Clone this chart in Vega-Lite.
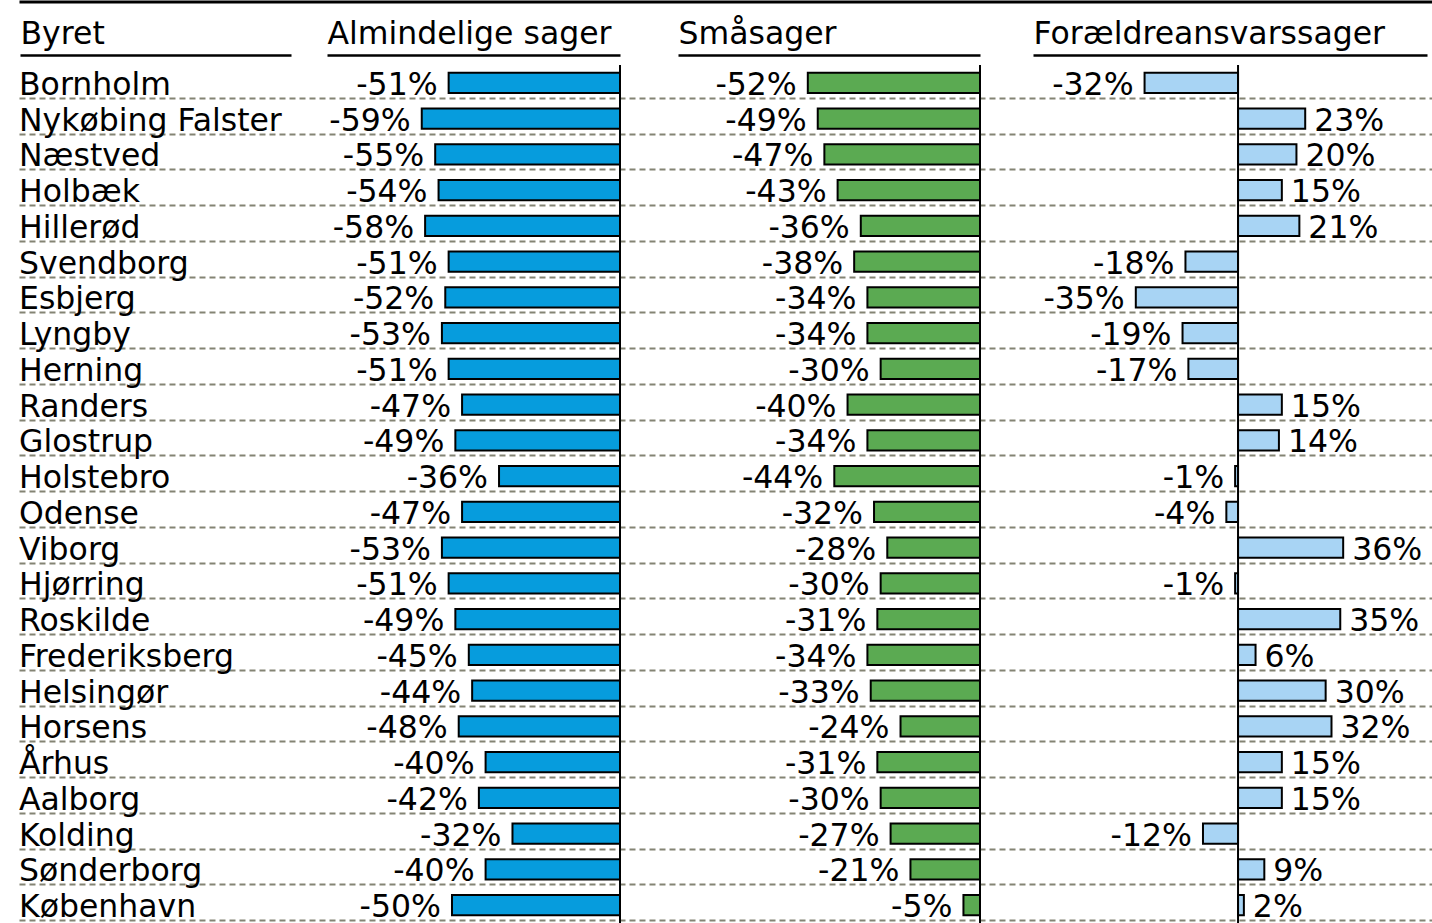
{
"$schema": "https://vega.github.io/schema/vega-lite/v6.json",
"width": 1412, "height": 858,
"padding": {"left": 20, "top": 65, "right": 0, "bottom": 0},
"autosize": {"type": "none"},
"config": {
  "view": {"stroke": null},
  "locale": {"number": {"decimal": ".", "thousands": ",", "grouping": [3], "currency": ["", ""], "minus": "-"}},
  "axis": {"titleFont": "DejaVu Sans", "titleFontSize": 31.5, "titleFontWeight": "normal", "titleColor": "#000"},
  "text": {"font": "DejaVu Sans", "fontSize": 31.5, "color": "#000"}
},
"data": {"values": [
{"city":"Bornholm","type":"A","v":-0.51},{"city":"Bornholm","type":"S","v":-0.52},{"city":"Bornholm","type":"F","v":-0.32},
{"city":"Nykøbing Falster","type":"A","v":-0.59},{"city":"Nykøbing Falster","type":"S","v":-0.49},{"city":"Nykøbing Falster","type":"F","v":0.23},
{"city":"Næstved","type":"A","v":-0.55},{"city":"Næstved","type":"S","v":-0.47},{"city":"Næstved","type":"F","v":0.20},
{"city":"Holbæk","type":"A","v":-0.54},{"city":"Holbæk","type":"S","v":-0.43},{"city":"Holbæk","type":"F","v":0.15},
{"city":"Hillerød","type":"A","v":-0.58},{"city":"Hillerød","type":"S","v":-0.36},{"city":"Hillerød","type":"F","v":0.21},
{"city":"Svendborg","type":"A","v":-0.51},{"city":"Svendborg","type":"S","v":-0.38},{"city":"Svendborg","type":"F","v":-0.18},
{"city":"Esbjerg","type":"A","v":-0.52},{"city":"Esbjerg","type":"S","v":-0.34},{"city":"Esbjerg","type":"F","v":-0.35},
{"city":"Lyngby","type":"A","v":-0.53},{"city":"Lyngby","type":"S","v":-0.34},{"city":"Lyngby","type":"F","v":-0.19},
{"city":"Herning","type":"A","v":-0.51},{"city":"Herning","type":"S","v":-0.30},{"city":"Herning","type":"F","v":-0.17},
{"city":"Randers","type":"A","v":-0.47},{"city":"Randers","type":"S","v":-0.40},{"city":"Randers","type":"F","v":0.15},
{"city":"Glostrup","type":"A","v":-0.49},{"city":"Glostrup","type":"S","v":-0.34},{"city":"Glostrup","type":"F","v":0.14},
{"city":"Holstebro","type":"A","v":-0.36},{"city":"Holstebro","type":"S","v":-0.44},{"city":"Holstebro","type":"F","v":-0.01},
{"city":"Odense","type":"A","v":-0.47},{"city":"Odense","type":"S","v":-0.32},{"city":"Odense","type":"F","v":-0.04},
{"city":"Viborg","type":"A","v":-0.53},{"city":"Viborg","type":"S","v":-0.28},{"city":"Viborg","type":"F","v":0.36},
{"city":"Hjørring","type":"A","v":-0.51},{"city":"Hjørring","type":"S","v":-0.30},{"city":"Hjørring","type":"F","v":-0.01},
{"city":"Roskilde","type":"A","v":-0.49},{"city":"Roskilde","type":"S","v":-0.31},{"city":"Roskilde","type":"F","v":0.35},
{"city":"Frederiksberg","type":"A","v":-0.45},{"city":"Frederiksberg","type":"S","v":-0.34},{"city":"Frederiksberg","type":"F","v":0.06},
{"city":"Helsingør","type":"A","v":-0.44},{"city":"Helsingør","type":"S","v":-0.33},{"city":"Helsingør","type":"F","v":0.30},
{"city":"Horsens","type":"A","v":-0.48},{"city":"Horsens","type":"S","v":-0.24},{"city":"Horsens","type":"F","v":0.32},
{"city":"Århus","type":"A","v":-0.40},{"city":"Århus","type":"S","v":-0.31},{"city":"Århus","type":"F","v":0.15},
{"city":"Aalborg","type":"A","v":-0.42},{"city":"Aalborg","type":"S","v":-0.30},{"city":"Aalborg","type":"F","v":0.15},
{"city":"Kolding","type":"A","v":-0.32},{"city":"Kolding","type":"S","v":-0.27},{"city":"Kolding","type":"F","v":-0.12},
{"city":"Sønderborg","type":"A","v":-0.40},{"city":"Sønderborg","type":"S","v":-0.21},{"city":"Sønderborg","type":"F","v":0.09},
{"city":"København","type":"A","v":-0.50},{"city":"København","type":"S","v":-0.05},{"city":"København","type":"F","v":0.02}
]},
"resolve": {"scale": {"x": "independent"}, "axis": {"x": "independent"}},
"layer": [
  {
    "transform": [{"filter": "datum.type === 'A'"}],
    "mark": {"type": "tick", "opacity": 0},
    "encoding": {
      "x": {"datum": 0, "type": "quantitative", "scale": {"domain": [0, 1], "range": [-1, 1412], "nice": false},
        "axis": {"orient": "top", "offset": 63.5, "labels": false, "ticks": false, "grid": false, "domain": true, "domainColor": "#000", "domainWidth": 3, "title": null}},
      "y": {"field": "city", "type": "nominal", "sort": null, "scale": {"type": "band", "paddingInner": 0, "paddingOuter": 0},
        "axis": {"grid": true, "gridDash": [6, 4], "gridColor": "#848474", "gridWidth": 2, "labels": false, "ticks": false, "domain": false, "title": null, "bandPosition": 0.935}}
    }
  },
  {
    "transform": [{"filter": "datum.type === 'A'"}],
    "mark": {"type": "text", "align": "left", "baseline": "alphabetic", "dx": -1, "dy": 12},
    "encoding": {
      "x": {"datum": 0, "type": "quantitative", "scale": {"domain": [0, 1], "range": [0, 271], "nice": false},
        "axis": {"orient": "top", "offset": 10, "labels": false, "ticks": false, "grid": false, "domain": true, "domainColor": "#000", "domainWidth": 2.5, "title": "Byret", "titleAnchor": "start", "titleAlign": "left", "titleBaseline": "alphabetic", "titleY": -12}},
      "y": {"field": "city", "type": "nominal", "sort": null, "scale": {"type": "band", "paddingInner": 0, "paddingOuter": 0},
        "axis": {"grid": true, "gridDash": [6, 4], "gridColor": "#848474", "gridWidth": 2, "labels": false, "ticks": false, "domain": false, "title": null, "bandPosition": 0.935}},
      "text": {"field": "city", "type": "nominal"}
    }
  },
  {
    "layer": [
      {
        "transform": [{"filter": "datum.type === 'A'"}],
        "mark": {"type": "bar", "height": {"band": 0.56}, "fill": "#069CDD", "stroke": "#000", "strokeWidth": 2},
        "encoding": {
          "x": {"field": "v", "type": "quantitative", "scale": {"domain": [-0.872, 0], "range": [307, 600], "nice": false, "zero": false},
            "axis": {"orient": "top", "offset": 10, "labels": false, "ticks": false, "grid": false, "domain": true, "domainColor": "#000", "domainWidth": 2.5, "title": "Almindelige sager", "titleAnchor": "start", "titleAlign": "left", "titleBaseline": "alphabetic", "titleY": -12}},
          "y": {"field": "city", "type": "nominal", "sort": null, "scale": {"type": "band", "paddingInner": 0, "paddingOuter": 0},
            "axis": {"grid": true, "gridDash": [6, 4], "gridColor": "#848474", "gridWidth": 2, "labels": false, "ticks": false, "domain": false, "title": null, "bandPosition": 0.935}}
        }
      },
      {
        "transform": [{"filter": "datum.type === 'A'"}],
        "mark": {"type": "text", "align": "right", "baseline": "alphabetic", "dx": -11, "dy": 12},
        "encoding": {
          "x": {"field": "v", "type": "quantitative", "scale": {"domain": [-0.872, 0], "range": [307, 600], "nice": false, "zero": false},
            "axis": {"orient": "top", "offset": 10, "labels": false, "ticks": false, "grid": false, "domain": true, "domainColor": "#000", "domainWidth": 2.5, "title": "Almindelige sager", "titleAnchor": "start", "titleAlign": "left", "titleBaseline": "alphabetic", "titleY": -12}},
          "y": {"field": "city", "type": "nominal", "sort": null, "scale": {"type": "band", "paddingInner": 0, "paddingOuter": 0},
            "axis": {"grid": true, "gridDash": [6, 4], "gridColor": "#848474", "gridWidth": 2, "labels": false, "ticks": false, "domain": false, "title": null, "bandPosition": 0.935}},
          "text": {"field": "v", "type": "quantitative", "format": ".0%"}
        }
      },
      {
        "transform": [{"filter": "datum.city === 'Bornholm' && datum.type === 'A'"}],
        "mark": {"type": "rule", "stroke": "#000", "strokeWidth": 2},
        "encoding": {
          "x": {"datum": 0, "type": "quantitative", "scale": {"domain": [-0.872, 0], "range": [307, 600], "nice": false, "zero": false},
            "axis": {"orient": "top", "offset": 10, "labels": false, "ticks": false, "grid": false, "domain": true, "domainColor": "#000", "domainWidth": 2.5, "title": "Almindelige sager", "titleAnchor": "start", "titleAlign": "left", "titleBaseline": "alphabetic", "titleY": -12}}
        }
      }
    ]
  },
  {
    "layer": [
      {
        "transform": [{"filter": "datum.type === 'S'"}],
        "mark": {"type": "bar", "height": {"band": 0.56}, "fill": "#5BAA52", "stroke": "#000", "strokeWidth": 2},
        "encoding": {
          "x": {"field": "v", "type": "quantitative", "scale": {"domain": [-0.912, 0], "range": [658, 960], "nice": false, "zero": false},
            "axis": {"orient": "top", "offset": 10, "labels": false, "ticks": false, "grid": false, "domain": true, "domainColor": "#000", "domainWidth": 2.5, "title": "Småsager", "titleAnchor": "start", "titleAlign": "left", "titleBaseline": "alphabetic", "titleY": -12}},
          "y": {"field": "city", "type": "nominal", "sort": null, "scale": {"type": "band", "paddingInner": 0, "paddingOuter": 0},
            "axis": {"grid": true, "gridDash": [6, 4], "gridColor": "#848474", "gridWidth": 2, "labels": false, "ticks": false, "domain": false, "title": null, "bandPosition": 0.935}}
        }
      },
      {
        "transform": [{"filter": "datum.type === 'S'"}],
        "mark": {"type": "text", "align": "right", "baseline": "alphabetic", "dx": -11, "dy": 12},
        "encoding": {
          "x": {"field": "v", "type": "quantitative", "scale": {"domain": [-0.912, 0], "range": [658, 960], "nice": false, "zero": false},
            "axis": {"orient": "top", "offset": 10, "labels": false, "ticks": false, "grid": false, "domain": true, "domainColor": "#000", "domainWidth": 2.5, "title": "Småsager", "titleAnchor": "start", "titleAlign": "left", "titleBaseline": "alphabetic", "titleY": -12}},
          "y": {"field": "city", "type": "nominal", "sort": null, "scale": {"type": "band", "paddingInner": 0, "paddingOuter": 0},
            "axis": {"grid": true, "gridDash": [6, 4], "gridColor": "#848474", "gridWidth": 2, "labels": false, "ticks": false, "domain": false, "title": null, "bandPosition": 0.935}},
          "text": {"field": "v", "type": "quantitative", "format": ".0%"}
        }
      },
      {
        "transform": [{"filter": "datum.city === 'Bornholm' && datum.type === 'S'"}],
        "mark": {"type": "rule", "stroke": "#000", "strokeWidth": 2},
        "encoding": {
          "x": {"datum": 0, "type": "quantitative", "scale": {"domain": [-0.912, 0], "range": [658, 960], "nice": false, "zero": false},
            "axis": {"orient": "top", "offset": 10, "labels": false, "ticks": false, "grid": false, "domain": true, "domainColor": "#000", "domainWidth": 2.5, "title": "Småsager", "titleAnchor": "start", "titleAlign": "left", "titleBaseline": "alphabetic", "titleY": -12}}
        }
      }
    ]
  },
  {
    "layer": [
      {
        "transform": [{"filter": "datum.type === 'F'"}],
        "mark": {"type": "bar", "height": {"band": 0.56}, "fill": "#A8D4F4", "stroke": "#000", "strokeWidth": 2},
        "encoding": {
          "x": {"field": "v", "type": "quantitative", "scale": {"domain": [-0.702, 0.647], "range": [1013, 1407], "nice": false, "zero": false},
            "axis": {"orient": "top", "offset": 10, "labels": false, "ticks": false, "grid": false, "domain": true, "domainColor": "#000", "domainWidth": 2.5, "title": "Forældreansvarssager", "titleAnchor": "start", "titleAlign": "left", "titleBaseline": "alphabetic", "titleY": -12}},
          "y": {"field": "city", "type": "nominal", "sort": null, "scale": {"type": "band", "paddingInner": 0, "paddingOuter": 0},
            "axis": {"grid": true, "gridDash": [6, 4], "gridColor": "#848474", "gridWidth": 2, "labels": false, "ticks": false, "domain": false, "title": null, "bandPosition": 0.935}}
        }
      },
      {
        "transform": [{"filter": "datum.type === 'F' && datum.v < 0"}],
        "mark": {"type": "text", "align": "right", "baseline": "alphabetic", "dx": -11, "dy": 12},
        "encoding": {
          "x": {"field": "v", "type": "quantitative", "scale": {"domain": [-0.702, 0.647], "range": [1013, 1407], "nice": false, "zero": false},
            "axis": {"orient": "top", "offset": 10, "labels": false, "ticks": false, "grid": false, "domain": true, "domainColor": "#000", "domainWidth": 2.5, "title": "Forældreansvarssager", "titleAnchor": "start", "titleAlign": "left", "titleBaseline": "alphabetic", "titleY": -12}},
          "y": {"field": "city", "type": "nominal", "sort": null, "scale": {"type": "band", "paddingInner": 0, "paddingOuter": 0},
            "axis": {"grid": true, "gridDash": [6, 4], "gridColor": "#848474", "gridWidth": 2, "labels": false, "ticks": false, "domain": false, "title": null, "bandPosition": 0.935}},
          "text": {"field": "v", "type": "quantitative", "format": ".0%"}
        }
      },
      {
        "transform": [{"filter": "datum.type === 'F' && datum.v >= 0"}],
        "mark": {"type": "text", "align": "left", "baseline": "alphabetic", "dx": 9, "dy": 12},
        "encoding": {
          "x": {"field": "v", "type": "quantitative", "scale": {"domain": [-0.702, 0.647], "range": [1013, 1407], "nice": false, "zero": false},
            "axis": {"orient": "top", "offset": 10, "labels": false, "ticks": false, "grid": false, "domain": true, "domainColor": "#000", "domainWidth": 2.5, "title": "Forældreansvarssager", "titleAnchor": "start", "titleAlign": "left", "titleBaseline": "alphabetic", "titleY": -12}},
          "y": {"field": "city", "type": "nominal", "sort": null, "scale": {"type": "band", "paddingInner": 0, "paddingOuter": 0},
            "axis": {"grid": true, "gridDash": [6, 4], "gridColor": "#848474", "gridWidth": 2, "labels": false, "ticks": false, "domain": false, "title": null, "bandPosition": 0.935}},
          "text": {"field": "v", "type": "quantitative", "format": ".0%"}
        }
      },
      {
        "transform": [{"filter": "datum.city === 'Bornholm' && datum.type === 'F'"}],
        "mark": {"type": "rule", "stroke": "#000", "strokeWidth": 2},
        "encoding": {
          "x": {"datum": 0, "type": "quantitative", "scale": {"domain": [-0.702, 0.647], "range": [1013, 1407], "nice": false, "zero": false},
            "axis": {"orient": "top", "offset": 10, "labels": false, "ticks": false, "grid": false, "domain": true, "domainColor": "#000", "domainWidth": 2.5, "title": "Forældreansvarssager", "titleAnchor": "start", "titleAlign": "left", "titleBaseline": "alphabetic", "titleY": -12}}
        }
      }
    ]
  }
]
}
